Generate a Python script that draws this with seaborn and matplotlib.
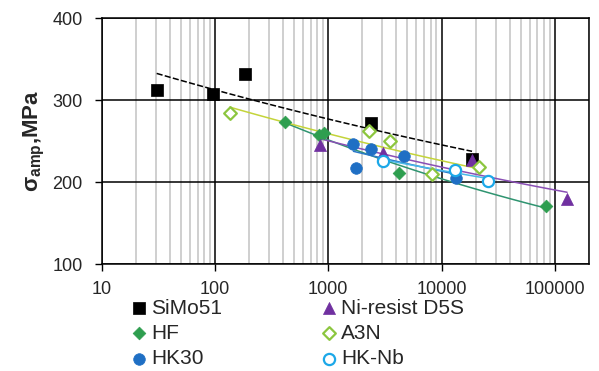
import numpy as np
import pandas as pd
import matplotlib
matplotlib.use("Agg")
import matplotlib.pyplot as plt
import seaborn as sns
from matplotlib.ticker import LogLocator, NullFormatter

# ---- data (cycles to failure, stress amplitude MPa) ----
simo51_n = [30.5, 95, 182, 2400, 18600]
simo51_s = [313, 308, 332, 272, 228]

hf_n = [411, 820, 908, 4250, 83400]
hf_s = [273, 257, 260, 211, 171]

ni_n = [853, 3070, 18700, 128500]
ni_s = [245, 235, 227, 179]

a3n_n = [135, 2306, 3540, 8300, 21500]
a3n_s = [284, 263, 250, 210, 218]

hk30_n = [1667, 2404, 1774, 4700, 13490]
hk30_s = [247, 240, 217, 232, 205]

hknb_n = [3070, 13250, 25900]
hknb_s = [226, 215, 202]

x_ticks = [10, 100, 1000, 10000, 100000]
x_tick_labels = ["10", "100", "1000", "10000", "100000"]
y_ticks = [100, 200, 300, 400]

series = [
    # label, n, s, marker, face, edge, line colour, line style, size
    ("SiMo51", simo51_n, simo51_s, "s", "black", "black", "black", (0, (4, 1.5)), 75),
    ("HF", hf_n, hf_s, "D", "#2e9e4f", "#2e9e4f", "#2f9470", "-", 42),
    ("HK30", hk30_n, hk30_s, "o", "#1f6fc4", "#1f6fc4", "#2a78c8", "-", 70),
    ("Ni-resist D5S", ni_n, ni_s, "^", "#7030a0", "#7030a0", "#8a4fb5", "-", 75),
    ("A3N", a3n_n, a3n_s, "D", "white", "#8cc63f", "#c4d43a", "-", 42),
    ("HK-Nb", hknb_n, hknb_s, "o", "white", "#1ca8e8", "#49b8e8", "-", 65),
]

sns.set_style("white")
plt.rcParams["font.family"] = ["Liberation Sans", "DejaVu Sans"]

fig = plt.figure(figsize=(5.99, 3.71), dpi=100)
ax = fig.add_axes([0.170, 0.288, 0.813, 0.663])
ax.set_xscale("log")
ax.set_xlim(10, 200000)
ax.set_ylim(100, 400)

# grid
ax.xaxis.set_minor_locator(LogLocator(base=10, subs=np.arange(2, 10)))
ax.xaxis.set_minor_formatter(NullFormatter())
ax.grid(which="minor", axis="x", color="#cfcfcf", lw=1.4)
ax.grid(which="major", axis="x", color="black", lw=1.1)
ax.grid(which="major", axis="y", color="black", lw=1.1)
ax.set_axisbelow(True)

# trend lines (power-law fits)
for label, n, s, m, fc, ec, lc, ls, size in series:
    lx = np.log10(n)
    b, a = np.polyfit(lx, np.log10(s), 1)
    xx = np.logspace(lx.min(), lx.max(), 50)
    df = pd.DataFrame({"n": xx, "s": 10 ** (a + b * np.log10(xx))})
    sns.lineplot(data=df, x="n", y="s", ax=ax, color=lc, lw=1.1,
                 linestyle=ls, legend=False, zorder=2)

# markers
for label, n, s, m, fc, ec, lc, ls, size in series:
    df = pd.DataFrame({"n": n, "s": s})
    sns.scatterplot(data=df, x="n", y="s", ax=ax, marker=m, s=size,
                    facecolor=fc, edgecolor=ec, linewidth=1.6 if fc == "white" else 0.5,
                    label=label, zorder=3)

ax.set_xticks(x_ticks)
ax.set_xticklabels(x_tick_labels)
ax.set_yticks(y_ticks)
ax.tick_params(axis="both", which="major", labelsize=13, length=5, width=1,
               direction="out", color="black", left=True, bottom=True)
ax.tick_params(axis="x", which="major", pad=7)
ax.tick_params(axis="y", which="major", pad=9)
ax.tick_params(axis="x", which="minor", length=0)
for sp in ax.spines.values():
    sp.set_color("black")
    sp.set_linewidth(1.1)
ax.set_xlabel("")
ax.set_ylabel(r"$\mathregular{σ_{amp}}$,MPa", fontsize=16, fontweight="bold", labelpad=4)

handles, labels = ax.get_legend_handles_labels()
leg = ax.legend(handles, labels, ncol=2, loc="upper left",
                bbox_to_anchor=(0.059, -0.14), frameon=False, fontsize=15,
                handletextpad=0.2, columnspacing=4.7, labelspacing=0.3,
                handlelength=0.8, borderaxespad=0, borderpad=0)

fig.savefig("out.png", dpi=100)
